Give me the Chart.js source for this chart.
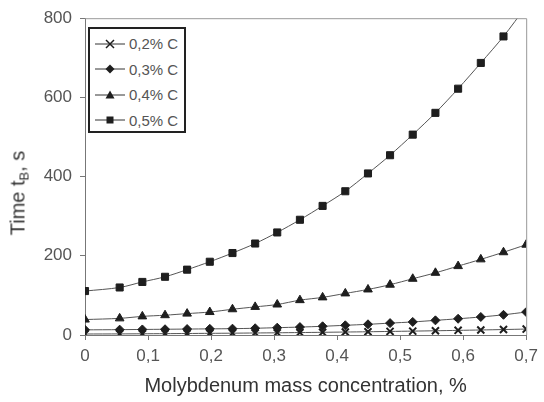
<!DOCTYPE html>
<html>
<head>
<meta charset="utf-8">
<script src="https://cdn.jsdelivr.net/npm/chart.js@4/dist/chart.umd.min.js"></script>
<style>
  body { margin: 0; background: #fff; font-family: "Liberation Sans", Arial, sans-serif; }
  #wrap { position: relative; width: 544px; height: 402px; }
  #ytitle {
    position: absolute; left: 19px; top: 193px; white-space: nowrap;
    font-size: 20px; color: #333;
    transform: translate(-50%, -50%) rotate(-90deg);
  }
  #ytitle sub { font-size: 13px; vertical-align: -4px; }
  #legend {
    position: absolute; left: 88px; top: 27px; width: 98px; height: 106px;
    border: 2px solid #222; box-sizing: border-box; background: #fff;
    padding-top: 2px;
  }
  .item { display: flex; align-items: center; height: 25.5px; font-size: 15px; color: #555; white-space: nowrap; }
  .item svg { margin-left: 5px; margin-right: 4px; flex: none; }
</style>
</head>
<body>
<div id="wrap">
  <canvas id="chart" width="544" height="402"></canvas>
  <div id="ytitle">Time t<sub>B</sub>, s</div>
  <div id="legend"></div>
</div>
<script>
const molybdenum = [0, 0.055, 0.091, 0.127, 0.162, 0.198, 0.234, 0.27, 0.305, 0.341,
  0.377, 0.413, 0.449, 0.484, 0.52, 0.556, 0.592, 0.628, 0.664, 0.7];
const seriesNames = ['0,2% C', '0,3% C', '0,4% C', '0,5% C'];
const c02 = [2.5, 2.8, 3.1, 3.4, 3.8, 4.2, 4.6, 5.1, 5.6, 6.2, 6.8, 7.5, 8.2, 9, 9.8, 10.7, 11.7, 12.7, 13.8, 15];
const c03 = [13, 13.5, 14, 14.5, 15, 15.5, 16, 17, 18.5, 20, 22, 24.5, 27, 30, 33, 37, 41, 45.5, 51, 58];
const c04 = [39, 42, 47, 50, 54, 58, 65, 71, 77, 88, 95, 105, 115, 127, 142, 157, 174, 191, 209, 228];
const c05 = [111, 120, 134, 147, 165, 185, 207, 231, 259, 291, 326, 363, 408, 454, 506, 561, 622, 687, 754, 830];
const xTicks = [0, 0.1, 0.2, 0.3, 0.4, 0.5, 0.6, 0.7];
const yTicks = [0, 200, 400, 600, 800];

const markers = ['crossRot', 'rectRot', 'triangle', 'rect'];
const radii = [5, 4.5, 5, 5];
const allSeries = [c02, c03, c04, c05];

const datasets = allSeries.map((vals, i) => ({
  label: seriesNames[i],
  data: vals.map((v, j) => ({ x: molybdenum[j], y: v })),
  borderColor: '#555',
  borderWidth: 1,
  pointStyle: markers[i],
  pointRadius: radii[i],
  pointBackgroundColor: '#1e1e1e',
  pointBorderColor: '#1e1e1e',
  pointBorderWidth: i === 0 ? 2 : 1,
  tension: 0.3,
  fill: false,
  clip: 0
}));

const frame = {
  id: 'frame',
  afterDraw(chart) {
    const a = chart.chartArea, ctx = chart.ctx;
    ctx.save();
    ctx.strokeStyle = '#999';
    ctx.lineWidth = 1;
    ctx.beginPath();
    ctx.moveTo(a.left, a.top + 0.5);
    ctx.lineTo(a.right + 0.5, a.top + 0.5);
    ctx.lineTo(a.right + 0.5, a.bottom);
    ctx.stroke();
    ctx.restore();
  }
};

const tickFont = { family: '"Liberation Sans", Arial, sans-serif', size: 17 };

new Chart(document.getElementById('chart'), {
  type: 'line',
  data: { datasets },
  options: {
    responsive: false,
    animation: false,
    layout: { padding: { top: 14, right: 12, left: 0, bottom: 0 } },
    plugins: { legend: { display: false }, tooltip: { enabled: false } },
    scales: {
      x: {
        type: 'linear', min: 0, max: 0.7,
        afterBuildTicks: s => { s.ticks = xTicks.map(v => ({ value: v })); },
        afterFit: s => { s.height = 67; },
        ticks: {
          color: '#555', font: tickFont, padding: 6,
          callback: v => v === 0 ? '0' : v.toFixed(1).replace('.', ',')
        },
        grid: { drawOnChartArea: false, drawTicks: true, tickLength: 5, color: '#777' },
        border: { color: '#777', width: 1 },
        title: {
          display: true, text: 'Molybdenum mass concentration, %',
          color: '#333', font: { family: '"Liberation Sans", Arial, sans-serif', size: 20 },
          padding: { top: 13 }
        }
      },
      y: {
        min: 0, max: 800,
        afterBuildTicks: s => { s.ticks = yTicks.map(v => ({ value: v })); },
        afterFit: s => { s.width = 85; },
        ticks: { color: '#555', font: tickFont, padding: 8 },
        grid: { drawOnChartArea: false, drawTicks: true, tickLength: 5, color: '#777' },
        border: { color: '#777', width: 1 }
      }
    }
  },
  plugins: [frame]
});

// legend built from the same series
const lg = document.getElementById('legend');
seriesNames.forEach((name, i) => {
  let m = '';
  if (markers[i] === 'crossRot') m = '<path d="M11 3 L19 11 M19 3 L11 11" stroke="#1e1e1e" stroke-width="1.5"/>';
  if (markers[i] === 'rectRot') m = '<path d="M15 2.5 L19.5 7 L15 11.5 L10.5 7 Z" fill="#1e1e1e"/>';
  if (markers[i] === 'triangle') m = '<path d="M15 2.5 L19.5 10.5 L10.5 10.5 Z" fill="#1e1e1e"/>';
  if (markers[i] === 'rect') m = '<rect x="11.5" y="3.5" width="7" height="7" fill="#1e1e1e"/>';
  const div = document.createElement('div');
  div.className = 'item';
  div.innerHTML = '<svg width="30" height="14"><line x1="0" y1="7" x2="30" y2="7" stroke="#333" stroke-width="1"/>' + m + '</svg><span>' + name + '</span>';
  lg.appendChild(div);
});
</script>
</body>
</html>
